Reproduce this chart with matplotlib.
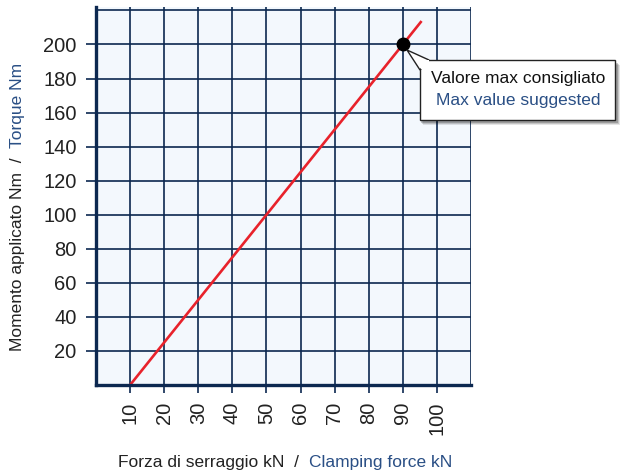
import matplotlib
matplotlib.use('Agg')
import matplotlib.pyplot as plt
from matplotlib.patches import Rectangle, Polygon

# clamping force (kN) vs applied torque (Nm)
force = [10, 95.5]
torque = [0, 213.75]
max_force = 90
max_torque = 200

xticks = [10, 20, 30, 40, 50, 60, 70, 80, 90, 100]
yticks = [20, 40, 60, 80, 100, 120, 140, 160, 180, 200]
grid_x = [10, 20, 30, 40, 50, 60, 70, 80, 90, 100, 110]
grid_y = [20, 40, 60, 80, 100, 120, 140, 160, 180, 200, 220]

navy = '#0c2850'
blue = '#2a4f85'
red = '#e8222b'

plt.rcParams['font.family'] = ['Liberation Sans', 'DejaVu Sans']

W, H = 620, 473
fig = plt.figure(figsize=(W / 100, H / 100), dpi=100)
ax = fig.add_axes([96 / W, 1 - 385 / H, 375 / W, 378 / H])
ax.set_facecolor('#f3f8fd')
ax.set_xlim(0, 110)
ax.set_ylim(0, 222)

for gx in grid_x:
    ax.axvline(gx, color=navy, lw=1.2, zorder=1)
for gy in grid_y:
    ax.axhline(gy, color=navy, lw=1.2, zorder=1)

ax.plot(force, torque, color=red, lw=1.9, zorder=3, solid_capstyle='butt')
ax.plot(max_force, max_torque, 'o', color='black', ms=9, zorder=5)

for s in ['top', 'right']:
    ax.spines[s].set_visible(False)
for s in ['left', 'bottom']:
    ax.spines[s].set_color(navy)
    ax.spines[s].set_linewidth(2.4)
    ax.spines[s].set_zorder(4)

ax.set_xticks(xticks)
ax.set_yticks(yticks)
ax.set_xticklabels([str(v) for v in xticks], rotation=90, fontsize=14.5, color='#222222')
ax.set_yticklabels([str(v) for v in yticks], fontsize=14.5, color='#222222')
ax.tick_params(axis='x', length=6, width=1.2, color=navy, pad=6)
ax.tick_params(axis='y', length=7, width=1.2, color=navy, pad=7)

# axis titles in two colours
xl1 = fig.text(118 / W, 1 - 470 / H, 'Forza di serraggio kN  /  ', fontsize=12.5, color='#222222',
               ha='left', va='bottom')
ax.annotate('Clamping force kN', xy=(1, 0), xycoords=xl1, fontsize=12.5, color=blue,
            ha='left', va='bottom', annotation_clip=False)
yl1 = fig.text(10 / W, 1 - 351 / H, 'Momento applicato Nm  /  ', fontsize=12.5, color='#222222',
               rotation=90, ha='left', va='bottom')
ax.annotate('Torque Nm', xy=(0, 1), xycoords=yl1, fontsize=12.5, color=blue,
            rotation=90, ha='left', va='bottom', annotation_clip=False)

# callout box with shadow
bx0, by0, bx1, by1 = 420, 60, 615, 120
for i, a in enumerate([0.10, 0.14, 0.20]):
    off = 5 - i
    fig.patches.append(Rectangle(((bx0 + off - 2) / W, 1 - (by1 + off) / H), (bx1 - bx0 + 2) / W,
                                 (by1 - by0) / H, transform=fig.transFigure,
                                 facecolor='black', edgecolor='none', alpha=a, zorder=6))
fig.patches.append(Rectangle((bx0 / W, 1 - by1 / H), (bx1 - bx0) / W, (by1 - by0) / H,
                             transform=fig.transFigure, facecolor='white',
                             edgecolor='#222222', lw=1.0, zorder=7))
tail = [(407, 50), (420, 70), (429, 60)]
fig.patches.append(Polygon([(x / W, 1 - y / H) for x, y in tail], closed=True,
                           transform=fig.transFigure, facecolor='white',
                           edgecolor='#222222', lw=1.0, zorder=7))
fig.patches.append(Rectangle((420.8 / W, 1 - 69 / H), 8 / W, 8.5 / H, transform=fig.transFigure,
                             facecolor='white', edgecolor='none', zorder=8))
fig.text(518 / W, 1 - 78 / H, 'Valore max consigliato', fontsize=12.5, color='#111111',
         ha='center', va='center', zorder=9)
fig.text(518 / W, 1 - 101 / H, 'Max value suggested', fontsize=12.5, color=blue,
         ha='center', va='center', zorder=9)

fig.savefig('out.png', dpi=100)
